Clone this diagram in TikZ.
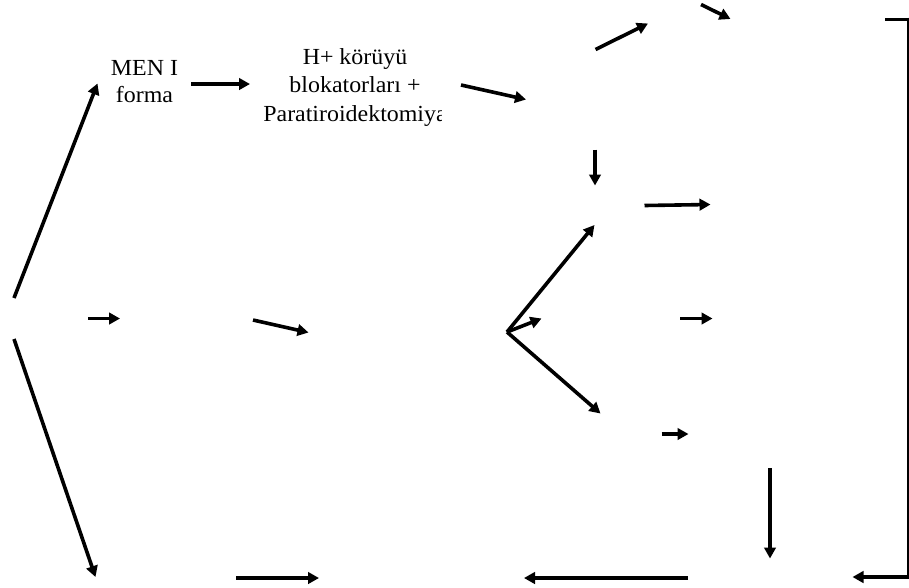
\documentclass[tikz,border=0pt]{standalone}
\usepackage{fontspec}
\newfontfamily\wf[FakeStretch=1.04]{Liberation Serif}
\usetikzlibrary{arrows.meta}
\begin{document}
\begin{tikzpicture}[x=1pt,y=-1pt,
  arr/.style={line width=3.6pt,-{Triangle[length=11pt,width=11.5pt]}},
  bar/.style={line width=3.6pt},
  thin line/.style={line width=1.8pt},
  lbl/.style={inner sep=0pt,align=center,font=\wf\fontsize{23}{27}\selectfont}]
\useasboundingbox (0,0) rectangle (909,587);
% text nodes
\node[lbl] (men) at (144.5,82) {MEN I\\forma};
\begin{scope}
\clip (0,0) rectangle (441,587);
\node[lbl,font=\wf\fontsize{23}{28.5}\selectfont] (hk) at (355,87) {H+ körüyü\\blokatorları +\\Paratiroidektomiya};
\end{scope}
% coordinates
\coordinate (root) at (14,298);
\coordinate (rootb) at (14,339);
\coordinate (menin) at (97.5,83.5);
\coordinate (lowl) at (95.5,577);
\coordinate (m1s) at (88,318.5);
\coordinate (m1e) at (120,318.5);
\coordinate (m2s) at (253,320);
\coordinate (m2e) at (308.5,332.5);
\coordinate (h1s) at (191,84);
\coordinate (h1e) at (250,84);
\coordinate (h2s) at (461,85);
\coordinate (h2e) at (526,99.5);
\coordinate (t1s) at (595.5,49.5);
\coordinate (t1e) at (648,23.5);
\coordinate (t2s) at (701,4.5);
\coordinate (t2e) at (730.5,19);
\coordinate (d1s) at (595,149.5);
\coordinate (d1e) at (595,185.5);
\coordinate (r1s) at (644.5,205.5);
\coordinate (r1e) at (710.5,204.5);
\coordinate (fan) at (507,332);
\coordinate (fanu) at (594.5,225);
\coordinate (fanm) at (541.5,318.5);
\coordinate (fand) at (600.5,413.5);
\coordinate (r2s) at (680,318.5);
\coordinate (r2e) at (712.5,318.5);
\coordinate (r3s) at (661.5,434);
\coordinate (r3e) at (688.5,434);
\coordinate (d2s) at (770,468);
\coordinate (d2e) at (770,558.5);
\coordinate (b1s) at (236,578);
\coordinate (b1e) at (319,578);
\coordinate (b2s) at (688,578);
\coordinate (b2e) at (524,578);
\coordinate (brt1) at (885,19.5);
\coordinate (brt2) at (908,19.5);
\coordinate (brv1) at (907.6,17.7);
\coordinate (brv2) at (907.6,578.8);
\coordinate (brb1) at (908.5,577);
\coordinate (brb2) at (852.5,577);
% connectors
\draw[arr] (root) -- (menin);
\draw[arr] (rootb) -- (lowl);
\draw[arr] (m1s) -- (m1e);
\draw[arr] (m2s) -- (m2e);
\draw[arr] (h1s) -- (h1e);
\draw[arr] (h2s) -- (h2e);
\draw[arr] (t1s) -- (t1e);
\draw[arr] (t2s) -- (t2e);
\draw[arr] (d1s) -- (d1e);
\draw[arr] (r1s) -- (r1e);
\draw[arr] (fan) -- (fanu);
\draw[arr] (fan) -- (fanm);
\draw[arr] (fan) -- (fand);
\draw[arr] (r2s) -- (r2e);
\draw[arr] (r3s) -- (r3e);
\draw[arr] (d2s) -- (d2e);
\draw[arr] (b1s) -- (b1e);
\draw[arr] (b2s) -- (b2e);
\draw[bar] (brt1) -- (brt2);
\draw[thin line] (brv1) -- (brv2);
\draw[arr] (brb1) -- (brb2);
\end{tikzpicture}
\end{document}
